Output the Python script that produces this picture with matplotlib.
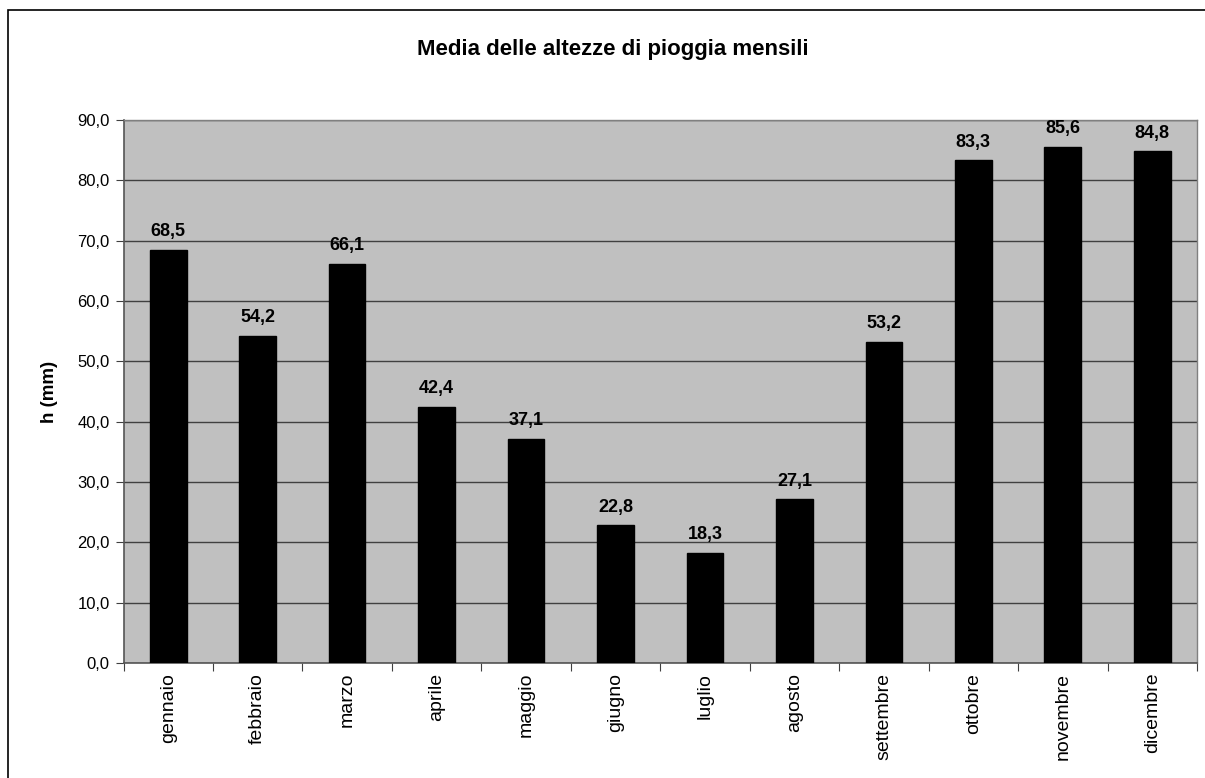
import matplotlib.pyplot as plt
from matplotlib.patches import Rectangle

plt.rcParams['font.family'] = ['Liberation Sans', 'DejaVu Sans']

mesi = ['gennaio', 'febbraio', 'marzo', 'aprile', 'maggio', 'giugno',
        'luglio', 'agosto', 'settembre', 'ottobre', 'novembre', 'dicembre']
pioggia = [68.5, 54.2, 66.1, 42.4, 37.1, 22.8, 18.3, 27.1, 53.2, 83.3, 85.6, 84.8]
yticks = [0, 10, 20, 30, 40, 50, 60, 70, 80, 90]

W, H = 1205, 778
fig = plt.figure(figsize=(W / 100, H / 100), dpi=100)
fig.patch.set_facecolor('white')

# bordo del grafico (solo lati superiore e sinistro visibili)
fig.add_artist(Rectangle((8 / W, -0.05), 1.1, 1.05 - 10 / H, transform=fig.transFigure,
                         fill=False, edgecolor='black', linewidth=1.2))

ax = fig.add_axes([123.5 / W, 1 - 663 / H, (1197 - 123.5) / W, (663 - 120) / H])
ax.set_facecolor('#C0C0C0')

x = range(len(mesi))
ax.bar(x, pioggia, width=0.41, color='black', edgecolor='black', zorder=3)
for xi, v in zip(x, pioggia):
    ax.annotate(f'{v:.1f}'.replace('.', ','), (xi, v), xytext=(0, 7),
                textcoords='offset points', ha='center', va='bottom',
                fontsize=13, fontweight='bold')

ax.set_xlim(-0.5, len(mesi) - 0.5)
ax.set_ylim(0, 90)
ax.set_yticks(yticks)
ax.set_yticklabels([f'{t:.1f}'.replace('.', ',') for t in yticks], fontsize=12)
ax.yaxis.grid(True, color='#404040', linewidth=1)
ax.set_axisbelow(True)

ax.set_xticks([i - 0.5 for i in range(len(mesi) + 1)])
ax.set_xticklabels([])
ax.set_xticks(list(x), minor=True)
ax.set_xticklabels(mesi, minor=True, rotation=90, fontsize=14)
ax.tick_params(axis='x', which='minor', length=0, pad=7)
ax.tick_params(axis='x', which='major', length=6, color='#404040', direction='out')
ax.tick_params(axis='y', length=6, color='#404040', direction='out', pad=4)

for side in ['left', 'bottom']:
    ax.spines[side].set_color('#555555')
    ax.spines[side].set_linewidth(1.2)
for side in ['top', 'right']:
    ax.spines[side].set_color('#808080')
    ax.spines[side].set_linewidth(1)

ax.set_ylabel('h (mm)', fontsize=13.5, fontweight='bold', labelpad=14)
fig.text(613 / W, 1 - 50 / H, 'Media delle altezze di pioggia mensili',
         ha='center', va='center', fontsize=16, fontweight='bold')

fig.savefig('out.png', dpi=100)
